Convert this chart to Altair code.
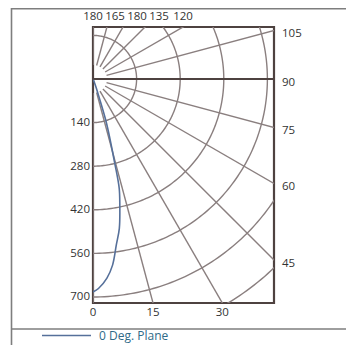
import math
import altair as alt
import pandas as pd

# ---- data ----
curve_angle = [0, 1.5, 4, 6, 8, 10, 12, 13.5, 14.5, 17, 18.5, 20, 22, 25]
curve_cd = [684, 673, 641, 601, 538, 487, 414, 360, 278, 147, 57, 30, 12, 3]
series_name = "0 Deg. Plane"

ring_cd = [140, 280, 420, 560, 700, 840]
left_label_cd = [140, 280, 420, 560, 700]
left_text = ["140", "280", "420", "560", "700"]
radial_angle = list(range(0, 181, 15))
bottom_angle = [0, 15, 30]
bottom_text = ["0", "15", "30"]
right_angle = [45, 60, 75, 90, 105]
right_text = ["45", "60", "75", "90", "105"]
top_angle = [180, 165, 150, 135, 120]
top_text = ["180", "165", "180", "135", "120"]

# ---- layout ----
PX_PER_CD = 0.3114
W, H = 181, 276
X_MAX = W / PX_PER_CD
Y_MAX = 52 / PX_PER_CD
Y_MIN = Y_MAX - H / PX_PER_CD
R_IN = 45
R_OUT = 1100

FONT = "Open Sans"
GRID = "#8a7f7f"
FRAME = "#4e4240"
CURVE = "#56709a"
TXT = "#333333"

xs = alt.Scale(domain=[0, X_MAX], nice=False, zero=False)
ys = alt.Scale(domain=[Y_MIN, Y_MAX], nice=False, zero=False)

def X(f):
    return alt.X(f"{f}:Q", scale=xs, axis=None)

def Y(f):
    return alt.Y(f"{f}:Q", scale=ys, axis=None)

rad = math.pi / 180

# rings
ring_rows = [{"ring": r, "a": a} for r in ring_cd for a in range(0, 181)]
rings = alt.Chart(pd.DataFrame(ring_rows)).transform_calculate(
    x="datum.ring * sin(datum.a * PI / 180)",
    y="-datum.ring * cos(datum.a * PI / 180)",
).mark_line(clip=True, color=GRID, strokeWidth=1.4).encode(
    x=X("x"), y=Y("y"), detail="ring:N", order="a:Q"
)

# radial lines
radials = alt.Chart(pd.DataFrame({"a": radial_angle})).transform_calculate(
    x0=f"{R_IN} * sin(datum.a * PI / 180)",
    y0=f"-{R_IN} * cos(datum.a * PI / 180)",
    x1=f"{R_OUT} * sin(datum.a * PI / 180)",
    y1=f"-{R_OUT} * cos(datum.a * PI / 180)",
).mark_rule(clip=True, color=GRID, strokeWidth=1.4).encode(
    x=X("x0"), y=Y("y0"), x2="x1:Q", y2="y1:Q"
)

# 90 degree line
hline = alt.Chart(pd.DataFrame({"a": [90]})).transform_calculate(
    x0="0", y0="0", x1=f"{X_MAX}", y1="0"
).mark_rule(clip=True, color=FRAME, strokeWidth=2.2).encode(
    x=X("x0"), y=Y("y0"), x2="x1:Q", y2="y1:Q"
)

# curve
curve = alt.Chart(pd.DataFrame({"a": curve_angle, "cd": curve_cd, "series": series_name})).transform_calculate(
    x="datum.cd * sin(datum.a * PI / 180)",
    y="-datum.cd * cos(datum.a * PI / 180)",
).mark_line(clip=True, strokeWidth=1.6, interpolate="catmull-rom").encode(
    x=X("x"), y=Y("y"), order="a:Q",
    color=alt.Color("series:N", scale=alt.Scale(domain=[series_name], range=[CURVE]),
                    legend=alt.Legend(orient="none", legendX=-52, legendY=283, title=None,
                                      symbolType="stroke", symbolSize=2401, symbolStrokeWidth=1.5,
                                      labelColor="#2f6a88", labelFontSize=12, labelFont=FONT,
                                      labelOffset=7, padding=0)),
)

# labels
left_df = pd.DataFrame({"x": [0.0] * len(left_label_cd), "y": [-v for v in left_label_cd], "t": left_text})
bottom_df = pd.DataFrame({"x": [-Y_MIN * math.tan(a * rad) for a in bottom_angle],
                          "y": [Y_MIN] * len(bottom_angle), "t": bottom_text})
right_df = pd.DataFrame({"x": [X_MAX] * len(right_angle),
                         "y": [-X_MAX * math.cos(a * rad) / math.sin(a * rad) for a in right_angle],
                         "t": right_text})
# top labels: ray intersections with the top edge, spread so they do not overlap
min_gap = 22 / PX_PER_CD
top_x = []
for a in top_angle:
    xv = Y_MAX * math.tan((180 - a) * rad)
    if top_x:
        xv = max(xv, top_x[-1] + min_gap)
    top_x.append(xv)
top_df = pd.DataFrame({"x": top_x, "y": [Y_MAX] * len(top_x), "t": top_text})

def labels(df, **kw):
    return alt.Chart(df).mark_text(font=FONT, fontSize=11.5, color=TXT, **kw).encode(
        x=X("x"), y=Y("y"), text="t:N")

left_lab = labels(left_df, align="right", baseline="middle", dx=-3, dy=0.5)
bottom_lab = labels(bottom_df, align="center", baseline="middle", dy=10)
right_lab = labels(right_df, align="left", baseline="middle", dx=8, dy=3.5)
top_lab = labels(top_df, align="center", baseline="middle", dy=-10)

# outer panel border and divider
deco_df = pd.DataFrame({"k": [0]})
border_left = alt.Chart(deco_df).mark_rule(color="#7e7e7e", strokeWidth=1.6).encode(
    x=alt.value(-81.5), y=alt.value(-19), y2=alt.value(330))
border_top = alt.Chart(deco_df).mark_rule(color="#7e7e7e", strokeWidth=1.6).encode(
    x=alt.value(-81.5), x2=alt.value(270), y=alt.value(-18.2))
divider = alt.Chart(deco_df).mark_rule(color="#7e7e7e", strokeWidth=1.6).encode(
    x=alt.value(-81.5), x2=alt.value(270), y=alt.value(302))

chart = alt.layer(
    rings, radials, hline, curve, left_lab, bottom_lab, right_lab, top_lab,
    border_left, border_top, divider
).properties(
    width=W, height=H,
    autosize=alt.AutoSizeParams(type="none"),
    padding={"left": 85, "top": 19, "right": 72, "bottom": 42},
).configure_view(stroke=FRAME, strokeWidth=2.2)

chart.save("out.html", embed_options={"renderer": "svg", "actions": False})
